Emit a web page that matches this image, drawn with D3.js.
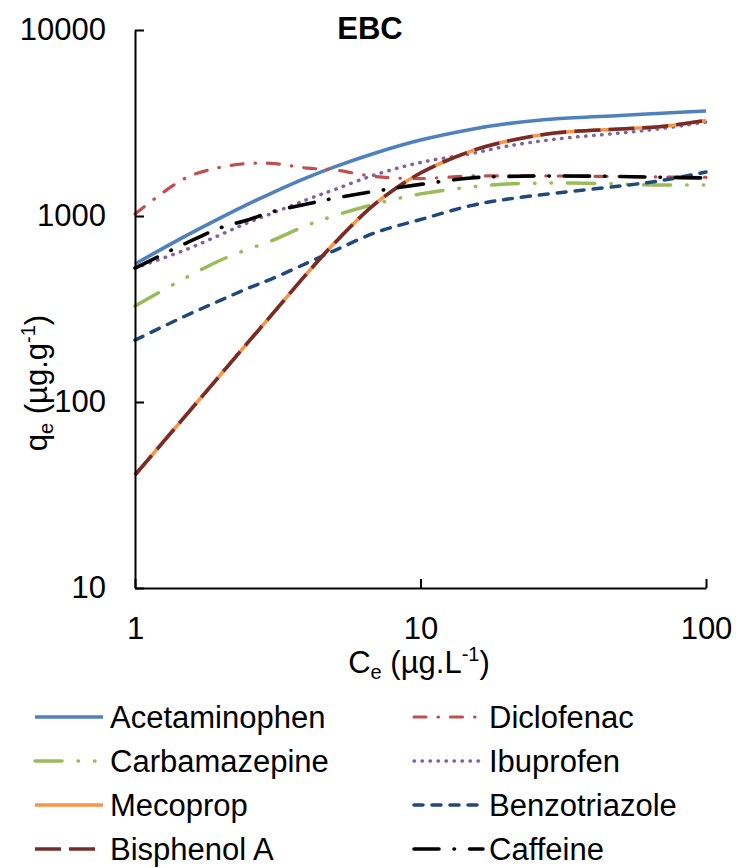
<!DOCTYPE html>
<html><head><meta charset="utf-8">
<script src="https://cdn.jsdelivr.net/npm/d3@7"></script>
<style>
body{margin:0;background:#fff}
text{font-family:"Liberation Sans",Arial,Helvetica,sans-serif;fill:#000}
</style>
</head><body>
<svg id="chart" width="736" height="868"></svg>
<script>
// ---- data ----
const concentrations = [1, 1.5, 2, 2.5, 3, 4, 5, 7, 10, 15, 20, 30, 50, 70, 100];
const acetaminophen = [552, 779, 981, 1162, 1325, 1607, 1837, 2188, 2560, 2920, 3130, 3330, 3470, 3570, 3668];
const diclofenac    = [1025, 1596, 1830, 1915, 1920, 1810, 1767, 1628, 1590, 1641, 1641, 1641, 1630, 1622, 1615];
const carbamazepine = [328, 464, 580, 665, 734, 891, 1004, 1164, 1315, 1432, 1486, 1504, 1486, 1467, 1467];
const ibuprofen     = [525, 657, 795, 924, 1030, 1225, 1387, 1674, 1940, 2163, 2370, 2594, 2793, 2953, 3201];
const mecoprop      = [40.5, 84, 141, 211, 292, 490, 715, 1175, 1702, 2230, 2520, 2800, 2937, 3030, 3262];
const benzotriazole = [215, 290, 353, 410, 458, 558, 652, 817, 957, 1137, 1230, 1330, 1449, 1552, 1724];
const bisphenolA    = [40.5, 84, 141, 211, 292, 490, 715, 1175, 1702, 2230, 2520, 2800, 2937, 3030, 3262];
const caffeine      = [525, 711, 866, 955, 1051, 1160, 1246, 1362, 1479, 1601, 1631, 1641, 1631, 1615, 1601];
const seriesNames = ["Acetaminophen", "Diclofenac", "Carbamazepine", "Ibuprofen", "Mecoprop", "Benzotriazole", "Bisphenol A", "Caffeine"];
const xTickValues = [1, 10, 100];
const yTickValues = [10, 100, 1000, 10000];
const chartTitle = "EBC";

// ---- styles ----
const seriesValues = [acetaminophen, diclofenac, carbamazepine, ibuprofen, mecoprop, benzotriazole, bisphenolA, caffeine];
const styles = [
  {color:"#4F81BD", width:3.6, dash:null, cap:"butt"},
  {color:"#C0504D", width:3.2, dash:"12 12 0.5 12", cap:"round"},
  {color:"#9BBB59", width:3.5, dash:"27 16 0.5 16 0.5 16", cap:"round"},
  {color:"#8064A2", width:3.5, dash:"0.5 7.5", cap:"round"},
  {color:"#F79646", width:3.6, dash:null, cap:"butt"},
  {color:"#1F497D", width:3.5, dash:"9 9", cap:"round"},
  {color:"#772C2A", width:3.6, dash:"26 8", cap:"butt"},
  {color:"#000000", width:3.6, dash:"25 15 0.5 15", cap:"round"}
];

const svg = d3.select("#chart");
const x = d3.scaleLog().domain([1, 100]).range([135, 706]);
const y = d3.scaleLog().domain([10, 10000]).range([588, 30]);

// ---- lines ----
const line = d3.line()
  .x(d => x(d[0]))
  .y(d => y(d[1]))
  .curve(d3.curveCatmullRom.alpha(0.5));

const gLines = svg.append("g");
seriesValues.forEach((vals, i) => {
  const st = styles[i];
  const pts = concentrations.map((c, k) => [c, vals[k]]);
  gLines.append("path")
    .attr("d", line(pts))
    .attr("fill", "none")
    .attr("stroke", st.color)
    .attr("stroke-width", st.width)
    .attr("stroke-linecap", st.cap)
    .attr("stroke-dasharray", st.dash);
});

// ---- axes ----
const fmt = d3.format("d");
const yAxis = d3.axisLeft(y).tickValues(yTickValues).tickFormat(fmt)
  .tickSizeInner(-9).tickSizeOuter(0).tickPadding(29);
const xAxis = d3.axisBottom(x).tickValues(xTickValues).tickFormat(fmt)
  .tickSizeInner(-9).tickSizeOuter(0).tickPadding(29);

const gy = svg.append("g").attr("transform", "translate(135,0)").call(yAxis);
const gx = svg.append("g").attr("transform", "translate(0,588)").call(xAxis);
[gx, gy].forEach(g => {
  g.select(".domain").attr("stroke", "#000").attr("stroke-width", 2);
  g.selectAll(".tick line").attr("stroke", "#000").attr("stroke-width", 2);
  g.selectAll(".tick text").attr("font-size", 31).attr("font-family", "Liberation Sans, Arial, sans-serif").attr("fill", "#000");
});

// ---- title ----
svg.append("text").attr("x", 370).attr("y", 39).attr("text-anchor", "middle")
  .attr("font-size", 31).attr("font-weight", "bold").text(chartTitle);

// ---- axis titles ----
const xt = svg.append("text").attr("x", 419).attr("y", 673).attr("text-anchor", "middle").attr("font-size", 31);
xt.append("tspan").text("C");
xt.append("tspan").attr("font-size", 20).attr("dy", 6).text("e");
xt.append("tspan").attr("dy", -6).text(" (µg.L");
xt.append("tspan").attr("font-size", 20).attr("dy", -12).text("-1");
xt.append("tspan").attr("dy", 12).text(")");

const yt = svg.append("text").attr("transform", "translate(47,383) rotate(-90)")
  .attr("text-anchor", "middle").attr("font-size", 31);
yt.append("tspan").text("q");
yt.append("tspan").attr("font-size", 20).attr("dy", 6).text("e");
yt.append("tspan").attr("dy", -6).text(" (µg.g");
yt.append("tspan").attr("font-size", 20).attr("dy", -12).text("-1");
yt.append("tspan").attr("dy", 12).text(")");

// ---- legend ----
const legendOrder = [0, 1, 2, 3, 4, 5, 6, 7];
const gl = svg.append("g");
legendOrder.forEach((idx, j) => {
  const col = j % 2, row = Math.floor(j / 2);
  const cy = 717 + row * 44;
  const x0 = col === 0 ? 35 : 414;
  const x1 = col === 0 ? 103 : 483;
  const st = styles[idx];
  gl.append("line").attr("x1", x0).attr("x2", x1).attr("y1", cy).attr("y2", cy)
    .attr("stroke", st.color).attr("stroke-width", st.width)
    .attr("stroke-linecap", st.cap).attr("stroke-dasharray", st.dash);
  gl.append("text").attr("x", col === 0 ? 110 : 489).attr("y", cy + 11)
    .attr("font-size", 31).text(seriesNames[idx]);
});
</script>
</body></html>
